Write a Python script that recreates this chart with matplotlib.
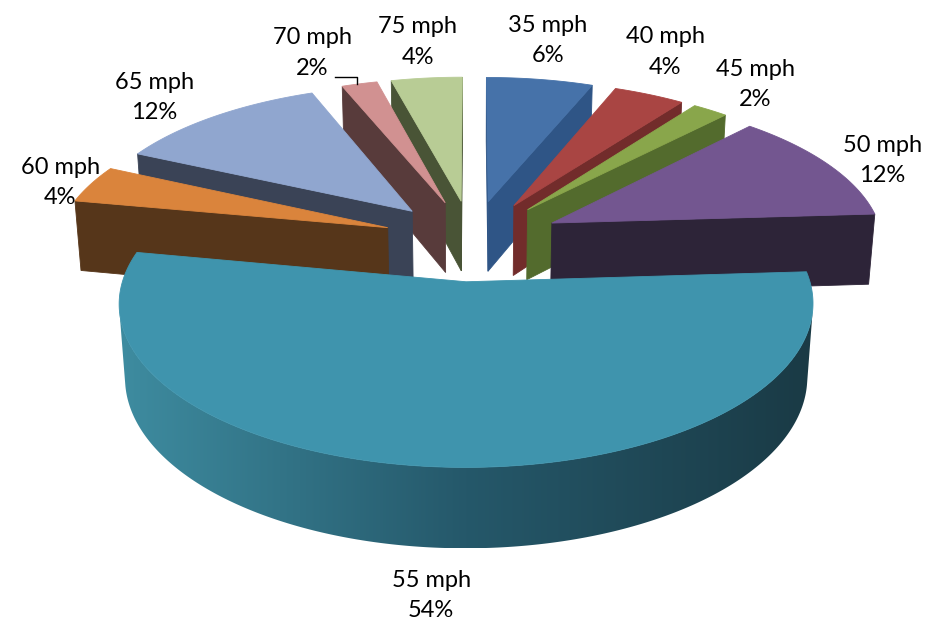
import numpy as np
import matplotlib.pyplot as plt
from matplotlib.patches import Polygon
from matplotlib.colors import to_rgb

# speed shares
labels = ['35 mph', '40 mph', '45 mph', '50 mph', '55 mph', '60 mph', '65 mph', '70 mph', '75 mph']
shares = [6, 4, 2, 12, 54, 4, 12, 2, 4]

top_colors = ['#4672A9', '#A94543', '#89A64B', '#735690', '#3F94AD',
              '#DA843C', '#90A6CF', '#D19191', '#B8CC95']
cut_colors = ['#2F5586', '#722C2B', '#536B2D', '#2D2438', '#1E4653',
              '#56361A', '#3A4356', '#583B3B', '#495436']
rim_stops = ['#3E8CA0', '#25586A', '#1A3A45']

# camera / pie geometry
PHI = np.radians(26.8)
DIST = 6.87
SCALE = 2279
CX, CY = 472, 240
THICK = 0.245
EXPLODE = 0.27

sn, cs = np.sin(PHI), np.cos(PHI)
cam = np.array([0.0, DIST * sn, -DIST * cs])
down = np.array([0, THICK, 0])


def proj(p):
    x, y, z = p
    d = DIST - y * sn + z * cs
    v = y * cs + z * sn
    return CX + SCALE * x / d, CY - SCALE * v / d


def depth(p):
    return DIST - p[1] * sn + p[2] * cs


def facing(p, n):
    return np.dot(np.asarray(p) - cam, n) < 0


fig = plt.figure(figsize=(9.28, 6.22), dpi=100)
ax = fig.add_axes([0, 0, 1, 1])
ax.axis('off')

cum = np.concatenate([[0], np.cumsum(shares)])
total = cum[-1]

slices = []
for i, val in enumerate(shares):
    a0 = np.radians(360 * cum[i] / total)
    a1 = np.radians(360 * cum[i + 1] / total)
    am = 0.5 * (a0 + a1)
    off = EXPLODE * np.array([np.sin(am), 0, np.cos(am)])
    cen = off + 0.6 * np.array([np.sin(am), 0, np.cos(am)])
    slices.append((depth(cen), i, a0, a1, am, off))

slices.sort(key=lambda s: -s[0])

z = [1]
def poly(pts, color):
    xy = [proj(p) for p in pts]
    p = Polygon(xy, closed=True, facecolor=color, edgecolor=color, lw=0.6, zorder=z[0])
    ax.add_patch(p)
    z[0] += 1
    return p

# horizontal shading for the big slice's rim
stops = np.array([to_rgb(c) for c in rim_stops])
t = np.linspace(0, 1, 256)
grad = np.empty((1, 256, 3))
for ch in range(3):
    grad[0, :, ch] = np.interp(t, [0, 0.5, 1], stops[:, ch])

for _, i, a0, a1, am, off in slices:
    th = np.linspace(a0, a1, max(4, int(np.degrees(a1 - a0) * 2)))
    top = [off + np.array([np.sin(a), 0, np.cos(a)]) for a in th]
    tip = off.copy()

    # cut faces
    for a, n in ((a0, np.array([-np.cos(a0), 0, np.sin(a0)])),
                 (a1, np.array([np.cos(a1), 0, -np.sin(a1)]))):
        if facing(tip, n):
            r = off + np.array([np.sin(a), 0, np.cos(a)])
            poly([tip, r, r - down, tip - down], cut_colors[i])

    # outer rim, visible part only
    vis = [k for k in range(len(th))
           if facing(top[k], np.array([np.sin(th[k]), 0, np.cos(th[k])]))]
    if len(vis) > 1:
        arc = [top[k] for k in vis]
        pts = arc + [p - down for p in arc[::-1]]
        if i == 4:
            clip = poly(pts, 'none')
            clip.set_edgecolor('none')
            xs = [proj(p)[0] for p in pts]
            ys = [proj(p)[1] for p in pts]
            im = ax.imshow(grad, extent=[min(xs), max(xs), max(ys), min(ys)],
                           aspect='auto', zorder=z[0], interpolation='bilinear')
            im.set_clip_path(clip)
            z[0] += 1
        else:
            poly(pts, cut_colors[i])

    poly([tip] + top, top_colors[i])

# data labels
nudge = {0: (-11, 5), 1: (-21, -12), 2: (3, -3), 3: (7, 6), 4: (-5, 0),
         5: (17, 5), 6: (-17, 2), 7: (-19, 8), 8: (4, 10)}
for _, i, a0, a1, am, off in slices:
    d = np.array([np.sin(am), 0, np.cos(am)])
    rim = off + d
    if np.cos(am) < -0.5:
        rim = rim - down
    ax_x, ax_y = proj(rim)
    u = np.array([ax_x - CX, ax_y - CY])
    u = u / np.hypot(*u)
    lx = ax_x + 48 * u[0] + nudge[i][0]
    ly = ax_y + 48 * u[1] + nudge[i][1]
    if i == 7:
        # leader line for the crowded slice
        ax.plot([lx + 23, ax_x - 2, ax_x - 2], [ly + 24, ly + 24, ax_y],
                color='black', lw=1, zorder=50)
    ax.text(lx, ly, f'{labels[i]}\n{shares[i] * 100 // total}%', ha='center', va='center',
            fontsize=17, family='Lato', linespacing=1.55, color='black', zorder=60)

ax.set_xlim(0, 928)
ax.set_ylim(622, 0)
fig.savefig('out.png', dpi=100)
